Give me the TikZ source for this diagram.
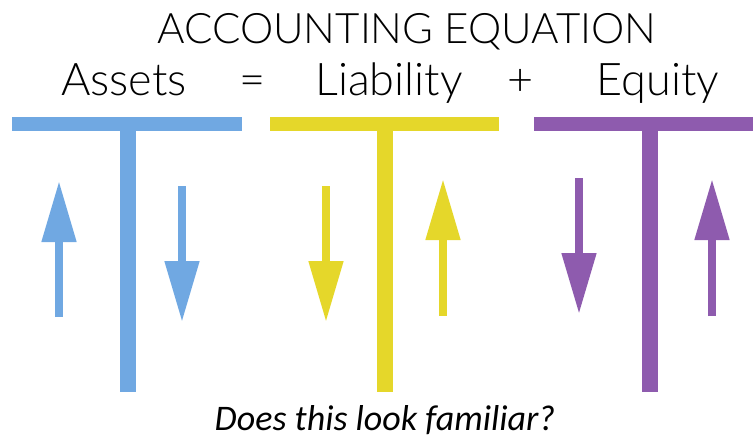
\documentclass[tikz,border=0pt]{standalone}
\usepackage{fontspec}
\usepackage{tikz}
\usetikzlibrary{arrows.meta}
\newfontfamily\headfont{Lato Light}
\newfontfamily\notefont{Carlito}
\definecolor{assetblue}{HTML}{70A8E2}
\definecolor{liabyellow}{HTML}{E5D72A}
\definecolor{equitypurple}{HTML}{8E5BAE}

\tikzset{
  tbar/.style={line width=14pt,line cap=butt},
  tstem/.style={line width=16pt,line cap=butt},
  move/.style={line width=8pt,-{Triangle[width=33pt,length=61pt]}},
  term/.style={anchor=base,font=\headfont\fontsize{45}{50}\selectfont}
}

\begin{document}
\begin{tikzpicture}[x=1pt,y=-1pt]
  \useasboundingbox (0,0) rectangle (753,440);
  \node[anchor=base,font=\headfont\fontsize{42}{46}\selectfont] (title) at (407,43) {ACCOUNTING EQUATION};
  \node[term] (assets) at (124,95) {Assets};
  \node[term] (eq) at (253,95) {=};
  \node[term] (liab) at (389,95) {Liability};
  \node[term] (plus) at (521,95) {+};
  \node[term] (equity) at (658,95) {Equity};

  % assets
  \draw[tbar,assetblue] (12,124) -- (242,124);
  \draw[tstem,assetblue] (128,131) -- (128,392);
  \draw[move,assetblue] (59,317) -- (59,181);
  \draw[move,assetblue] (182,186) -- (182,322);

  % liability
  \draw[tbar,liabyellow] (270,124) -- (499,124);
  \draw[tstem,liabyellow] (385,131) -- (385,392);
  \draw[move,liabyellow] (326,186) -- (326,322);
  \draw[move,liabyellow] (443,316) -- (443,179);

  % equity
  \draw[tbar,equitypurple] (534,124) -- (753,124);
  \draw[tstem,equitypurple] (650,131) -- (650,392);
  \draw[move,equitypurple] (579,178) -- (579,314);
  \draw[move,equitypurple] (712,316) -- (712,179);

  \node[anchor=base,font=\notefont\itshape\fontsize{36}{40}\selectfont] (note) at (385,430) {Does this look familiar?};
\end{tikzpicture}
\end{document}
